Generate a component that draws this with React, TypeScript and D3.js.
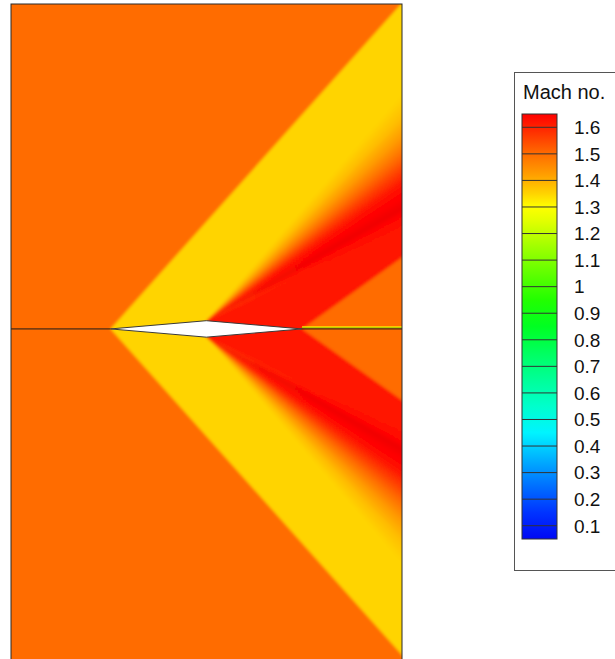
import React from 'react';
import * as d3 from 'd3';

// Contour levels shown in the legend
const machLevels = [0.1, 0.2, 0.3, 0.4, 0.5, 0.6, 0.7, 0.8, 0.9, 1.0, 1.1, 1.2, 1.3, 1.4, 1.5, 1.6];
const levelLabels = ['0.1', '0.2', '0.3', '0.4', '0.5', '0.6', '0.7', '0.8', '0.9', '1', '1.1', '1.2', '1.3', '1.4', '1.5', '1.6'];
const legendRange = [1.65, 0.05];

// Colour map (Mach number -> colour)
const cmapValues = [0.05, 0.15, 0.25, 0.35, 0.45, 0.55, 0.65, 0.75, 0.85, 0.95, 1.05, 1.15, 1.25, 1.3, 1.35, 1.42, 1.5, 1.56, 1.62, 1.65, 1.7];
const cmapColors = ['#0008f4', '#0034ff', '#0070ff', '#00b0ff', '#00f4ff', '#00ffcc', '#00ff98', '#00ff60', '#00ff22', '#22ff00', '#60ff00', '#a0ff00', '#e4ff00', '#ffff00', '#ffd400', '#ffa000', '#ff6c00', '#ff4000', '#ff1400', '#ff0000', '#d80000'];

// Diamond airfoil (chord = 1)
const airfoilX = [0, 0.5, 1, 0.5];
const airfoilY = [0, 0.043, 0, -0.043];

// Flow regions
const freestreamMach = 1.5;
const postShockMach = 1.35;
const wakeMach = 1.5;
const leadingShockAngle = 48.2; // degrees from the axis
const trailingShockAngle = 35.5;

// Prandtl-Meyer fan centred on the shoulder: ray angle (deg) -> Mach
const fanAngles = [49, 46, 43, 40, 37, 34.5, 32, 29.5, 27, 25];
const fanMach = [1.35, 1.38, 1.43, 1.5, 1.57, 1.62, 1.65, 1.67, 1.63, 1.62];

const W = 615;
const H = 659;
const plot = { x0: 11, x1: 402, y0: 4, y1: 664 };

const xScale = d3.scaleLinear().domain([-0.52, 1.522]).range([plot.x0, plot.x1]);
const yScale = d3.scaleLinear().domain([1.697, -1.75]).range([plot.y0, plot.y1]);
const cmap = d3.scaleLinear<string>().domain(cmapValues).range(cmapColors).interpolate(d3.interpolateRgb).clamp(true);
const fanProfile = d3.scaleLinear().domain(fanAngles).range(fanMach).clamp(true);
const cbScale = d3.scaleLinear().domain(legendRange).range([114, 539]);

const R = 3;
const rad = (a: number) => (a * Math.PI) / 180;
type P = [number, number];
const toPath = (pts: P[], s: number) =>
  'M' + pts.map(([x, y]) => `${xScale(x)},${yScale(y * s)}`).join('L') + 'Z';

function HalfField({ s }: { s: number }) {
  const le: P = [airfoilX[0], airfoilY[0]];
  const apex: P = [airfoilX[1], airfoilY[1]];
  const te: P = [airfoilX[2], airfoilY[2]];
  const ray = (o: P, a: number, r = R): P => [o[0] + r * Math.cos(rad(a)), o[1] + r * Math.sin(rad(a))];

  const shockFar = ray(le, leadingShockAngle);
  const yellow: P[] = [le, shockFar, [10, shockFar[1]], [10, 0]];

  // thin overlapping wedges from the shoulder, each shaded by the fan profile
  const wedges: { d: string; c: string }[] = [];
  const step = 0.4;
  for (let a = fanAngles[0]; a > fanAngles[fanAngles.length - 1]; a -= step) {
    const m = fanProfile(a - step / 2);
    wedges.push({ d: toPath([apex, ray(apex, a + 0.25), ray(apex, a - step)], s), c: cmap(m) });
  }
  const last = fanAngles[fanAngles.length - 1];
  const tail: P[] = [apex, ray(apex, last), [10, ray(apex, last)[1]], [10, -1], [0.5, -1]];

  const trailFar = ray(te, trailingShockAngle);
  const trailing: P[] = [te, trailFar, [10, trailFar[1]], [10, 0]];

  return (
    <g>
      <path d={toPath(yellow, s)} fill={cmap(postShockMach)} />
      {wedges.map((w, i) => (
        <path key={i} d={w.d} fill={w.c} />
      ))}
      <path d={toPath(tail, s)} fill={cmap(fanMach[fanMach.length - 1])} />
      <path d={toPath(trailing, s)} fill={cmap(wakeMach)} />
    </g>
  );
}

export default function App() {
  const cy = yScale(0);
  const airfoilPts: P[] = airfoilX.map((x, i) => [x, airfoilY[i]]);
  const cbX0 = 522;
  const cbX1 = 557;
  const gradStops = cmapValues
    .filter((v) => v >= legendRange[1] && v <= legendRange[0])
    .map((v) => ({ off: (legendRange[0] - v) / (legendRange[0] - legendRange[1]), c: cmap(v) }))
    .sort((a, b) => a.off - b.off);

  return (
    <svg width={W} height={H} style={{ position: 'absolute', left: 0, top: 0 }} fontFamily="'Liberation Sans', Arial, sans-serif">
      <defs>
        <clipPath id="plotClip">
          <rect x={plot.x0} y={plot.y0} width={plot.x1 - plot.x0} height={plot.y1 - plot.y0} />
        </clipPath>
        <clipPath id="upperClip">
          <rect x={-200} y={-400} width={1200} height={cy + 400} />
        </clipPath>
        <clipPath id="lowerClip">
          <rect x={-200} y={cy} width={1200} height={800} />
        </clipPath>
        <filter id="soft" filterUnits="userSpaceOnUse" x={-200} y={-200} width={1100} height={1100}>
          <feGaussianBlur stdDeviation={1.4} />
        </filter>
        <linearGradient id="cbGrad" x1="0" y1="0" x2="0" y2="1">
          {gradStops.map((g, i) => (
            <stop key={i} offset={g.off} stopColor={g.c} />
          ))}
        </linearGradient>
      </defs>

      <g clipPath="url(#plotClip)">
        <g filter="url(#soft)">
          <rect x={-100} y={-100} width={700} height={900} fill={cmap(freestreamMach)} />
          <g clipPath="url(#upperClip)">
            <HalfField s={1} />
          </g>
          <g clipPath="url(#lowerClip)">
            <HalfField s={-1} />
          </g>
        </g>
        {/* symmetry line upstream and wake line downstream */}
        <line x1={plot.x0} x2={xScale(0)} y1={cy} y2={cy} stroke="#1a1a1a" strokeWidth={1} />
        <line x1={xScale(1)} x2={plot.x1} y1={cy - 2.2} y2={cy - 2.2} stroke="#ffe400" strokeWidth={1.2} />
        <line x1={xScale(1)} x2={plot.x1} y1={cy - 1.2} y2={cy - 1.2} stroke="#9ee000" strokeWidth={1} />
        <line x1={xScale(1)} x2={plot.x1} y1={cy} y2={cy} stroke="#1a1a1a" strokeWidth={1} />
        <path d={toPath(airfoilPts, 1)} fill="#ffffff" stroke="#3a3a3a" strokeWidth={1} />
      </g>
      <rect x={plot.x0} y={plot.y0} width={plot.x1 - plot.x0} height={plot.y1 - plot.y0} fill="none" stroke="#2a2a2a" strokeWidth={1} />

      {/* legend */}
      <rect x={514.5} y={72.5} width={140} height={498} fill="#ffffff" stroke="#555" strokeWidth={1} />
      <text x={523} y={99} fontSize={20} fill="#111">Mach no.</text>
      <rect x={cbX0} y={cbScale(legendRange[0])} width={cbX1 - cbX0} height={cbScale(legendRange[1]) - cbScale(legendRange[0])} fill="url(#cbGrad)" stroke="#333" strokeWidth={1} />
      {machLevels.map((v, i) => (
        <g key={v}>
          <line x1={cbX0} x2={cbX1} y1={cbScale(v)} y2={cbScale(v)} stroke="#333" strokeWidth={1} />
          <text x={574} y={cbScale(v)} dy="0.36em" fontSize={19} fill="#111">{levelLabels[i]}</text>
        </g>
      ))}
    </svg>
  );
}
